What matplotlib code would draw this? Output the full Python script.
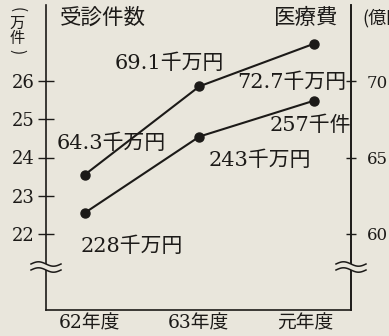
import numpy as np
import matplotlib
matplotlib.use("Agg")
import matplotlib.pyplot as plt
from matplotlib.patches import Rectangle

# ---- data ----
years = ["62年度", "63年度", "元年度"]
cases = [22.55, 24.55, 25.49]          # 受診件数 (万件), left axis
costs = [63.88, 69.67, 72.46]          # 医療費 (億円), right axis
case_labels = ["228千万円", "243千万円", "257千件"]
cost_labels = ["64.3千万円", "69.1千万円", "72.7千万円"]
left_ticks = [22, 23, 24, 25, 26]
right_ticks = [60, 65, 70]

BG = "#e9e6dc"
INK = "#1c1a18"
FAM = ["DejaVu Serif", "Noto Sans CJK JP"]
CJK = ["Noto Sans CJK JP", "DejaVu Sans"]

W, H = 389, 336
fig = plt.figure(figsize=(W / 100, H / 100), dpi=100, facecolor=BG)

def fx(px):
    return px / W

def fy(py):
    return 1 - py / H

x0, x1, ytop, ybot = 46, 351, 5, 310
ax = fig.add_axes([fx(x0), fy(ybot), fx(x1) - fx(x0), fy(ytop) - fy(ybot)])
ax.set_facecolor("none")
ax2 = ax.twinx()

xs = np.arange(len(years))
ax.set_xlim(-0.34, 2.323)
ax.set_ylim(20, 28)
ax2.set_ylim(55, 75)

ax.plot(xs, cases, color=INK, lw=1.5, marker="o", ms=6.5, zorder=3)
ax2.plot(xs, costs, color=INK, lw=1.5, marker="o", ms=6.5, zorder=3)

for a in (ax, ax2):
    a.spines["top"].set_visible(False)
    for s in a.spines.values():
        s.set_color(INK)
        s.set_linewidth(1.2)
ax2.spines["left"].set_visible(False)
ax2.spines["bottom"].set_visible(False)

ax.set_yticks(left_ticks)
ax.set_yticklabels([str(t) for t in left_ticks], family=FAM, fontsize=13, color=INK)
ax.tick_params(axis="y", direction="inout", length=12, width=1.0, pad=2, colors=INK)
ax2.set_yticks(right_ticks)
ax2.set_yticklabels([str(t) for t in right_ticks], family=FAM, fontsize=12, color=INK)
ax2.tick_params(axis="y", direction="inout", length=7, width=1.0, pad=8, colors=INK)

tick_pos = [0.04, 0.99, 1.92]
ax.set_xticks(tick_pos)
ax.set_xticklabels(years, family=FAM, fontsize=13.5, color=INK)
ax.tick_params(axis="x", length=0, pad=3)

# value labels anchored to points (pixel offsets)
cost_off = [(26, 31), (-30, 23), (-22, -39)]
case_off = [(47, -33), (60, -24), (-4, -25)]
for i in range(3):
    ax2.annotate(cost_labels[i], (xs[i], costs[i]), xytext=cost_off[i],
                 textcoords="offset pixels", ha="center", va="center",
                 family=FAM, fontsize=15, color=INK)
    ax.annotate(case_labels[i], (xs[i], cases[i]), xytext=case_off[i],
                textcoords="offset pixels", ha="center", va="center",
                family=FAM, fontsize=15, color=INK)

# overlay for titles and axis-break marks (pixel coords)
ov = fig.add_axes([0, 0, 1, 1], facecolor="none")
ov.set_xlim(0, W)
ov.set_ylim(H, 0)
ov.axis("off")

ov.text(60, 18, "受診件数", family=CJK, fontsize=15.5, color=INK, ha="left", va="center")
ov.text(338, 18, "医療費", family=CJK, fontsize=15.5, color=INK, ha="right", va="center")
ov.text(362, 18, "(億円)", family=CJK, fontsize=13, color=INK, ha="left", va="center")

ov.text(17, 10, "(", family=CJK, fontsize=11, color=INK, ha="center", va="center", rotation=-90)
ov.text(17, 23, "万", family=CJK, fontsize=11, color=INK, ha="center", va="center")
ov.text(17, 39, "件", family=CJK, fontsize=11, color=INK, ha="center", va="center")
ov.text(17, 52, ")", family=CJK, fontsize=11, color=INK, ha="center", va="center", rotation=-90)

# axis break marks
t = np.linspace(0, 1, 40)
for cx in (46, 351):
    ov.add_patch(Rectangle((cx - 3, 264), 6, 6, facecolor=BG, edgecolor="none", zorder=5))
    for yb in (264, 270):
        ov.plot(cx - 15 + 30 * t, yb - 2.2 * np.sin(2 * np.pi * t), color=INK, lw=1.1, zorder=6)

fig.savefig("out.png", dpi=100, facecolor=BG)
